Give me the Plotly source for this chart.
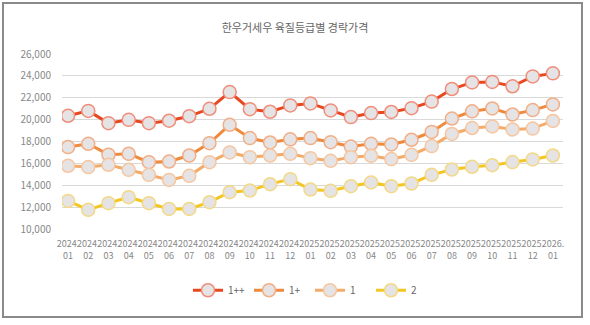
import plotly.graph_objects as go

months = ["2024.<br>01","2024.<br>02","2024.<br>03","2024.<br>04","2024.<br>05","2024.<br>06",
          "2024.<br>07","2024.<br>08","2024.<br>09","2024.<br>10","2024.<br>11","2024.<br>12",
          "2025.<br>01","2025.<br>02","2025.<br>03","2025.<br>04","2025.<br>05","2025.<br>06",
          "2025.<br>07","2025.<br>08","2025.<br>09","2025.<br>10","2025.<br>11","2025.<br>12",
          "2026.<br>01"]

g1pp = [20350, 20800, 19680, 19980, 19680, 19900, 20320, 20990, 22520, 20960, 20720, 21300,
        21480, 20840, 20230, 20600, 20700, 21050, 21650, 22800, 23400, 23450, 23050, 23950, 24230]
g1p = [17490, 17790, 16800, 16870, 16110, 16170, 16720, 17850, 19530, 18310, 17910, 18200,
       18310, 17940, 17540, 17790, 17730, 18160, 18880, 20100, 20760, 21020, 20470, 20870, 21390]
g1 = [15780, 15660, 15870, 15410, 14950, 14490, 14860, 16110, 17000, 16570, 16720, 16870,
      16480, 16230, 16570, 16690, 16390, 16780, 17580, 18690, 19230, 19380, 19100, 19180, 19880]
g2 = [12570, 11750, 12360, 12910, 12360, 11840, 11840, 12450, 13370, 13520, 14100, 14560,
      13610, 13490, 13910, 14260, 13910, 14160, 14950, 15440, 15690, 15830, 16120, 16360, 16720]

names = ["1++", "1+", "1", "2"]
line_colors = ["#e8481f", "#ef8a3c", "#f3ab6a", "#f4c623"]
edge_colors = ["#f08e7c", "#f2ae86", "#f6c6a0", "#f3d986"]
yticks = [10000, 12000, 14000, 16000, 18000, 20000, 22000, 24000, 26000]

FONT = "Noto Sans CJK KR"

fig = go.Figure()
for vals, nm, lc, ec in zip([g1pp, g1p, g1, g2], names, line_colors, edge_colors):
    fig.add_trace(go.Scatter(
        x=months, y=vals, name=nm, mode="lines+markers",
        line=dict(color=lc, width=3),
        marker=dict(size=13, color="#e5e3e3", line=dict(color=ec, width=1.5)),
    ))

# outer frame
fig.add_shape(type="rect", xref="paper", yref="paper",
              x0=-0.1178, x1=1.0379, y0=-0.5029, y1=1.2914,
              line=dict(color="#8a8a8a", width=2), fillcolor="rgba(0,0,0,0)", layer="below")

fig.update_layout(
    width=590, height=325,
    margin=dict(l=62, r=27, t=54, b=96),
    paper_bgcolor="white", plot_bgcolor="white",
    font=dict(family=FONT, color="#777", size=10),
    title=dict(text="한우거세우 육질등급별 경락가격", x=0.5, xanchor="center",
               y=1 - 28/325, yanchor="middle",
               font=dict(family=FONT, size=11, color="#666")),
    showlegend=True,
    legend=dict(orientation="h", x=0.495, xanchor="center", y=-0.35, yanchor="middle",
                font=dict(family=FONT, size=10, color="#666"), itemwidth=30,
                entrywidth=16, entrywidthmode="pixels",
                bgcolor="rgba(0,0,0,0)"),
    xaxis=dict(type="category", range=[-0.3, 24.5], tickangle=0, showgrid=False,
               showline=False, ticks="", ticklabelstandoff=8,
               tickfont=dict(family=FONT, size=9, color="#888"),
               fixedrange=True),
    yaxis=dict(range=[10000, 26000], tickvals=yticks, tickformat=",", showgrid=True,
               gridcolor="#d9d9d9", gridwidth=1, zeroline=False, showline=False,
               ticks="", ticklabelstandoff=10, tickfont=dict(family=FONT, size=10, color="#888"),
               fixedrange=True),
)

fig.write_html("out.html")
